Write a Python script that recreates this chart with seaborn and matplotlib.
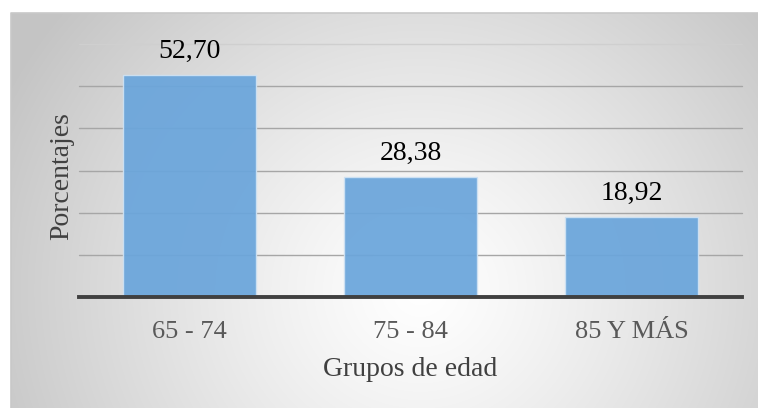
import numpy as np
import pandas as pd
import matplotlib
matplotlib.use("Agg")
import matplotlib.pyplot as plt
import seaborn as sns

# Data
grupos = ["65 - 74", "75 - 84", "85 Y MÁS"]
porcentajes = [52.70, 28.38, 18.92]
etiquetas = ["52,70", "28,38", "18,92"]
y_ticks = [0, 10, 20, 30, 40, 50, 60]

sns.set_style("white")
plt.rcParams["font.family"] = ["Liberation Serif", "DejaVu Serif"]

W, H = 758, 408
fig = plt.figure(figsize=(W / 100, H / 100), dpi=100)
fig.patch.set_facecolor("white")

# Chart-area panel with a soft radial gradient
px0, py_top = 11, 13
bg = fig.add_axes([px0 / W, 0, 1 - px0 / W, 1 - py_top / H])
bg.set_zorder(-5)
gw, gh = W - px0, H - py_top
xx, yy = np.meshgrid(np.arange(gw) + px0, np.arange(gh) + py_top)
cx, cy = 420, 290
d = np.sqrt(((xx - cx) / 420.0) ** 2 + ((yy - cy) / 400.0) ** 2)
shade = 255 - 52 * np.clip(d, 0, 1.1) ** 1.2
img = np.dstack([shade, shade, shade]) / 255.0
bg.imshow(np.clip(img, 0, 1), aspect="auto", extent=[0, 1, 0, 1], origin="upper")
bg.set_xlim(0, 1)
bg.set_ylim(0, 1)
bg.axis("off")
bg.plot([0, 0, 1], [0, 1, 1], color="#c8c8c8", lw=1.2, transform=bg.transAxes, clip_on=False)

# Plot area
left, right, top, base = 79, 742, 44, 297
ax = fig.add_axes([left / W, (H - base) / H, (right - left) / W, (base - top) / H])
ax.set_facecolor("none")

df = pd.DataFrame({"grupo": grupos, "pct": porcentajes})
sns.barplot(data=df, x="grupo", y="pct", color="#6aa5db", saturation=1, width=0.6,
            edgecolor="#cfe2f3", linewidth=1.0, alpha=0.93, ax=ax, zorder=3)

ax.set_ylim(0, 60)
ax.set_xlim(-0.5, 2.5)
ax.set_yticks(y_ticks)
ax.set_yticklabels([])
ax.tick_params(axis="both", length=0)
ax.tick_params(axis="x", labelsize=19, labelcolor="#595959", pad=17)
for yv in y_ticks[1:]:
    ax.axhline(yv, color="#cfcfcf" if yv == 60 else "#a6a6a6", lw=1.0, zorder=1, clip_on=False)
for s in ["top", "right", "left"]:
    ax.spines[s].set_visible(False)
ax.spines["bottom"].set_color("#404040")
ax.spines["bottom"].set_linewidth(2.8)
ax.spines["bottom"].set_zorder(4)

for i, (v, t) in enumerate(zip(porcentajes, etiquetas)):
    ax.annotate(t, xy=(i, v), xytext=(0, 12.5), textcoords="offset points",
                ha="center", va="baseline", fontsize=20, color="black")

ax.set_xlabel("Grupos de edad", fontsize=20, color="#404040", va="center")
ax.xaxis.set_label_coords(0.5, (base - 370) / (base - top))
ax.set_ylabel("Porcentajes", fontsize=20, color="#404040", va="center")
ax.yaxis.set_label_coords((62 - left) / (right - left), (base - 176) / (base - top))

fig.savefig("out.png", dpi=100)
